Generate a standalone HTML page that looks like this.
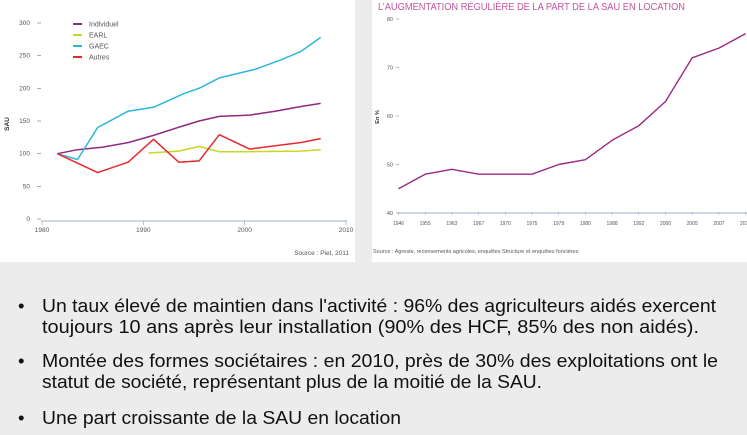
<!DOCTYPE html>
<html><head><meta charset="utf-8"><style>
html,body{margin:0;padding:0;width:747px;height:435px;background:#ececec;overflow:hidden}
svg{display:block;font-family:"Liberation Sans",sans-serif}
</style></head><body>
<svg width="747" height="435" viewBox="0 0 747 435">
<rect x="0" y="0" width="747" height="435" fill="#ececec"/>
<rect x="0" y="0" width="355" height="262" fill="#fff"/>
<rect x="372" y="0" width="375" height="262" fill="#fff"/>
<g id="left"></g>
<g id="right"></g>
<g font-size="18.5" fill="#111">
<text x="18" y="312">•</text>
<text x="42" y="312" textLength="674" lengthAdjust="spacingAndGlyphs">Un taux élevé de maintien dans l'activité : 96% des agriculteurs aidés exercent</text>
<text x="42" y="333" textLength="657" lengthAdjust="spacingAndGlyphs">toujours 10 ans après leur installation (90% des HCF, 85% des non aidés).</text>
<text x="18" y="367">•</text>
<text x="42" y="367" textLength="676" lengthAdjust="spacingAndGlyphs">Montée des formes sociétaires : en 2010, près de 30% des exploitations ont le</text>
<text x="42" y="388" textLength="500" lengthAdjust="spacingAndGlyphs">statut de société, représentant plus de la moitié de la SAU.</text>
<text x="18" y="424">•</text>
<text x="42" y="424" textLength="359" lengthAdjust="spacingAndGlyphs">Une part croissante de la SAU en location</text>
</g>
</svg>
<script>
const NS="http://www.w3.org/2000/svg";
function mk(p,tag,attrs,txt){const e=document.createElementNS(NS,tag);for(const k in attrs)e.setAttribute(k,attrs[k]);if(txt!==undefined)e.textContent=txt;p.appendChild(e);return e;}

// ---- Left chart data ----
const leftYTicks=[0,50,100,150,200,250,300];
const leftXTicks=[1980,1990,2000,2010];
const indivYears=[1981.5,1983.5,1986,1988.5,1991,1994,1995.5,1997.5,2000.5,2003,2005.5,2007.5];
const indivVals=[100,106,110,117,128,143,150,157,159,165,172,177];
const gaecYears=[1981.5,1983.5,1985.5,1988.5,1991,1994,1995.5,1997.5,2001,2003.5,2005.5,2007.5];
const gaecVals=[100,91,140,165,171,192,200,216,229,243,256,278];
const earlYears=[1990.5,1993.5,1995.5,1997.5,2000,2005.5,2007.5];
const earlVals=[101,104,111,103,103,104,106];
const autresYears=[1981.5,1985.5,1988.5,1991,1993.5,1995.5,1997.5,2000.5,2003,2005.5,2007.5];
const autresVals=[100,71,87,122,87,89,129,107,112,117,123];
const legendNames=["Individuel","EARL","GAEC","Autres"];

// ---- Right chart data ----
const rightCats=["1946","1955","1963","1967","1970","1975","1979","1980","1988","1992","2000","2005","2007","2010"];
const rightVals=[45,48,49,48,48,48,50,51,55,58,63,72,74,77];
const rightYTicks=[40,50,60,70,80];

// Left chart
const L=document.getElementById('left');
const lx=v=>42+(v-1980)*(304/30);
const ly=v=>219-v*(196/300);
leftYTicks.forEach(t=>{
  const tx=mk(L,'text',{x:30,y:ly(t)+2,'font-size':6.5,fill:'#555','text-anchor':'end'},t);
  
  
  const ln=mk(L,'line',{x1:37,x2:41,y1:ly(t),y2:ly(t),stroke:'#777','stroke-width':0.6});
  
  
});
const ax=mk(L,'line',{x1:41,x2:347,y1:221,y2:221,stroke:'#8a9ab0','stroke-width':0.8});


leftXTicks.forEach(t=>{
  const ln=mk(L,'line',{x1:lx(t),x2:lx(t),y1:221,y2:225,stroke:'#8a9ab0','stroke-width':0.6});
  
  
  const tx=mk(L,'text',{x:lx(t),y:232,'font-size':6.5,fill:'#555','text-anchor':'middle'},t);
  
  
});
const yl=mk(L,'text',{x:0,y:0,'font-size':6.5,fill:'#333','font-weight':'bold',transform:'translate(9,124) rotate(-90)','text-anchor':'middle'},'SAU');


const series=[[indivYears,indivVals,'#8e2a80','line-individuel'],[gaecYears,gaecVals,'#2bb7db','line-gaec'],[earlYears,earlVals,'#c9d622','line-earl'],[autresYears,autresVals,'#e8282e','line-autres']];
series.forEach(s=>{
  const pts=s[0].map((y,i)=>lx(y).toFixed(1)+','+ly(s[1][i]).toFixed(1)).join(' ');
  const p=mk(L,'polyline',{points:pts,fill:'none',stroke:s[2],'stroke-width':1.5,'stroke-linejoin':'round'});
  
  
});
const legCols=['#8e2a80','#c9d622','#2bb7db','#e8282e'];
legendNames.forEach((n,i)=>{
  const y=24+i*11;
  const r=mk(L,'line',{x1:73,x2:82,y1:y,y2:y,stroke:legCols[i],'stroke-width':2});
  
  
  const t=mk(L,'text',{x:89,y:y+2.5,'font-size':7,fill:'#555'},n);
  
  
});
const src=mk(L,'text',{x:349,y:255,'font-size':6.5,fill:'#555','text-anchor':'end'},'Source : Piet, 2011');



// Right chart
const R=document.getElementById('right');
const rx=i=>398.5+i*26.7;
const ry=v=>213-(v-40)*(194/40);
const ttl=mk(R,'text',{x:378,y:10,'font-size':10.5,fill:'#c0559f',textLength:307,lengthAdjust:'spacingAndGlyphs'},'L’AUGMENTATION RÉGULIÈRE DE LA PART DE LA SAU EN LOCATION');


rightYTicks.forEach(t=>{
  const tx=mk(R,'text',{x:393,y:ry(t)+2,'font-size':5.5,fill:'#555','text-anchor':'end'},t);
  
  
  const ln=mk(R,'line',{x1:396,x2:399,y1:ry(t),y2:ry(t),stroke:'#777','stroke-width':0.5});
  
  
});
const rax=mk(R,'line',{x1:398,x2:747,y1:213,y2:213,stroke:'#8a9ab0','stroke-width':0.8});


rightCats.forEach((c,i)=>{
  const tk=mk(R,'line',{x1:rx(i),x2:rx(i),y1:212,y2:215,stroke:'#8a9ab0','stroke-width':0.5});
  
  
  const tx=mk(R,'text',{x:rx(i),y:225,'font-size':5,fill:'#555','text-anchor':'middle'},c);
  
  
});
const ryl=mk(R,'text',{x:0,y:0,'font-size':5.5,fill:'#333','font-weight':'bold',transform:'translate(379,117) rotate(-90)','text-anchor':'middle'},'En %');


const rp=mk(R,'polyline',{points:rightVals.map((v,i)=>rx(i).toFixed(1)+','+ry(v).toFixed(1)).join(' '),fill:'none',stroke:'#9b2a86','stroke-width':1.4,'stroke-linejoin':'round'});


const rsrc=mk(R,'text',{x:373,y:253,'font-size':5.5,fill:'#555'},'Source :  Agreste, recensements agricoles, enquêtes Structure et enquêtes foncières');


</script>
</body></html>
